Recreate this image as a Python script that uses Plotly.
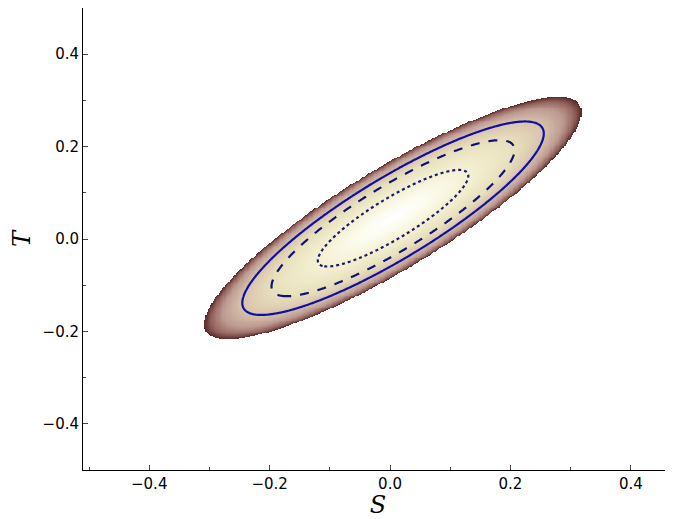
import numpy as np
import plotly.graph_objects as go

# Gaussian parameters
mu_s, mu_t = 0.005, 0.045
sigma_s, sigma_t, rho = 0.0825, 0.069, 0.875
cut_r = 3.8
levels_r = [1.515, 2.447, 3.035]          # dotted, dashed, solid
dashes = ["dot", "dash", "solid"]
line_colors = ["#1a1a6e", "#10107a", "#1010a0"]
x_ticks = [-0.4, -0.2, 0.0, 0.2, 0.4]
y_ticks = [-0.4, -0.2, 0.0, 0.2, 0.4]
tick_text = ["\u22120.4", "\u22120.2", "0.0", "0.2", "0.4"]

s = np.linspace(-0.52, 0.5, 510)
t = np.linspace(-0.5, 0.5, 500)
S, T = np.meshgrid(s, t)
u = (S - mu_s) / sigma_s
v = (T - mu_t) / sigma_t
r2 = (u**2 - 2 * rho * u * v + v**2) / (1 - rho**2)
rr = np.sqrt(r2) / cut_r          # normalised Mahalanobis radius for colouring
rr[rr > 1] = np.nan

pink_scale = [[0.0, "#ffffff"], [0.2, "#fbfbec"], [0.4, "#f4f0d2"], [0.64, "#e8e0bc"],
              [0.8, "#d8c2ac"], [0.9, "#bc9a90"], [0.96, "#94645e"], [1.0, "#5a2a2a"]]

fig = go.Figure()
fig.add_trace(go.Heatmap(x=s, y=t, z=rr, colorscale=pink_scale, zmin=0, zmax=1,
                         showscale=False, hoverinfo="skip"))
for r, d, c in zip(levels_r, dashes, line_colors):
    fig.add_trace(go.Contour(x=s, y=t, z=r2, contours=dict(start=r*r, end=r*r, size=1, coloring="none"),
                             line=dict(color=c, width=2.2, dash=d), showscale=False, hoverinfo="skip"))

ax = dict(showline=True, linecolor="black", linewidth=1, mirror=True, ticks="inside", ticklen=5,
          showgrid=False, zeroline=False, tickfont=dict(family="DejaVu Sans", size=15, color="black"),
          minor=dict(ticks="inside", ticklen=3, dtick=0.1))
fig.update_xaxes(range=[-0.51, 0.47], tickvals=x_ticks, ticktext=tick_text,
                 title=dict(text="<i>S</i>", font=dict(family="DejaVu Serif", size=24, color="black"), standoff=0), **ax)
fig.update_yaxes(range=[-0.5, 0.5], tickvals=y_ticks, ticktext=tick_text,
                 title=dict(text="<i>T</i>", font=dict(family="DejaVu Serif", size=24, color="black"), standoff=8), **ax)
fig.update_layout(width=665, height=511, margin=dict(l=75, r=0, t=0, b=49),
                  plot_bgcolor="white", paper_bgcolor="white", showlegend=False)
fig.write_html("out.html")
